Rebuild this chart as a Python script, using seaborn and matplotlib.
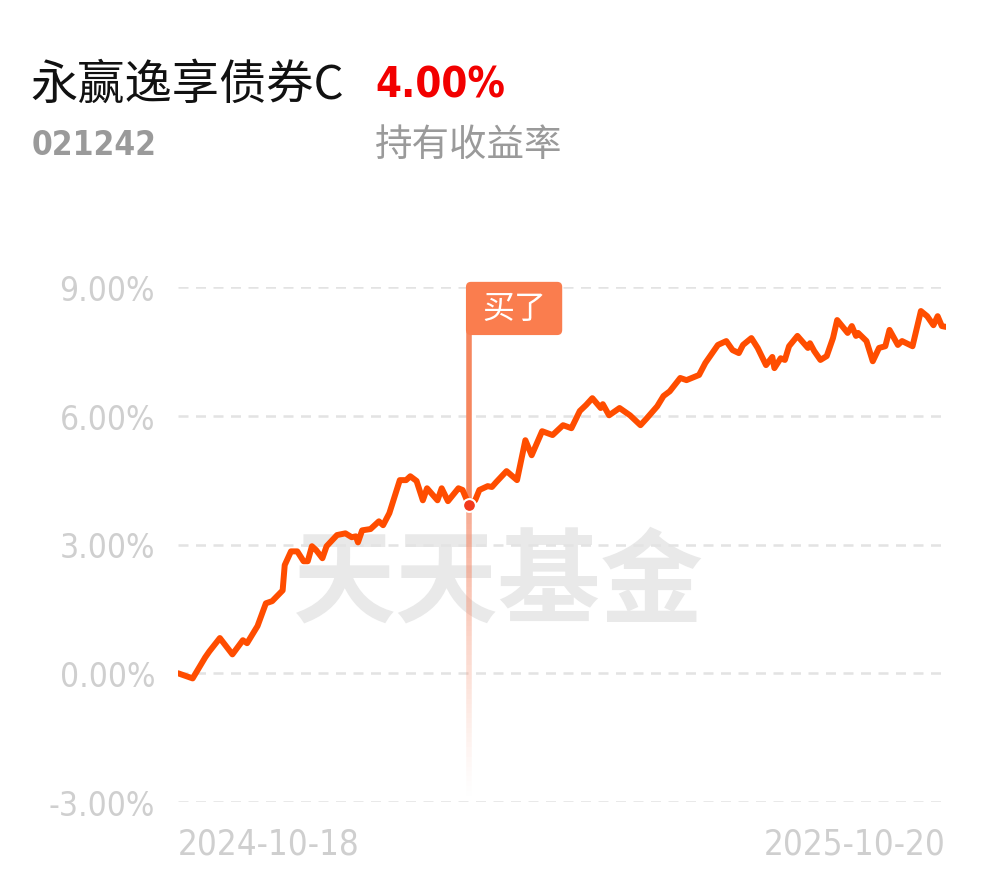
import pandas as pd
import numpy as np
import matplotlib
matplotlib.use("Agg")
import matplotlib.pyplot as plt
import matplotlib.dates as mdates
from matplotlib.collections import LineCollection
from matplotlib.patches import FancyBboxPatch
import seaborn as sns

# holding return curve, calendar days since 2024-10-18 and return in %
days = [0, 7, 13, 15, 20, 26, 31, 33, 38, 42, 45, 50, 51, 54, 57, 60, 62, 64, 66, 69,
        71, 76, 80, 83, 85, 86, 88, 92, 96, 98, 101, 106, 109, 111, 114, 117, 119, 124,
        126, 129, 134, 136, 139, 142, 144, 148, 150, 152, 157, 162, 166, 169, 174, 179,
        184, 188, 192, 195, 198, 202, 203, 206, 211, 216, 221, 224, 229, 232, 235, 240,
        243, 249, 252, 258, 262, 265, 268, 270, 274, 277, 281, 284, 285, 288, 290, 292,
        296, 301, 302, 304, 307, 310, 313, 315, 320, 322, 324, 325, 329, 332, 335, 338,
        340, 344, 346, 351, 355, 358, 361, 363, 365, 367]
returns = [0.00, -0.12, 0.37, 0.51, 0.82, 0.44, 0.77, 0.70, 1.10, 1.63, 1.68, 1.93, 2.52,
           2.84, 2.84, 2.61, 2.61, 2.96, 2.87, 2.68, 2.96, 3.22, 3.26, 3.17, 3.19, 3.05,
           3.33, 3.36, 3.54, 3.45, 3.73, 4.50, 4.50, 4.59, 4.48, 4.03, 4.31, 4.03, 4.31,
           4.01, 4.31, 4.27, 3.92, 4.03, 4.27, 4.36, 4.34, 4.45, 4.71, 4.50, 5.43, 5.08,
           5.64, 5.55, 5.78, 5.71, 6.11, 6.25, 6.41, 6.18, 6.27, 6.01, 6.18, 6.01, 5.78,
           5.94, 6.22, 6.46, 6.57, 6.88, 6.83, 6.95, 7.23, 7.65, 7.74, 7.53, 7.46, 7.65,
           7.81, 7.58, 7.18, 7.37, 7.11, 7.34, 7.30, 7.62, 7.86, 7.58, 7.69, 7.51, 7.30,
           7.39, 7.81, 8.23, 7.93, 8.09, 7.86, 7.93, 7.74, 7.27, 7.58, 7.62, 8.00, 7.65,
           7.74, 7.62, 8.44, 8.32, 8.11, 8.32, 8.09, 8.07]
buy_pos = 42  # index of the purchase day in the lists above

start_date = "2024-10-18"
end_date = "2025-10-20"
y_ticks = [-3, 0, 3, 6, 9]
y_labels = ["-3.00%", "0.00%", "3.00%", "6.00%", "9.00%"]

fund_name = "永赢逸享债券C"
fund_code = "021242"
hold_return = "4.00%"

df = pd.DataFrame({"date": pd.Timestamp(start_date) + pd.to_timedelta(days, unit="D"),
                   "ret": returns})

sns.set_theme(style="white")
plt.rcParams["font.family"] = ["Noto Sans CJK SC", "DejaVu Sans"]
num = dict(family="DejaVu Sans", stretch="condensed")

fig = plt.figure(figsize=(9.9, 8.78), dpi=100)
fig.patch.set_facecolor("white")
ax = fig.add_axes([178 / 990, 1 - 803 / 878, (946 - 178) / 990, (803 - 288) / 878])

# watermark, under the curve
ax.text(0.503, 0.335, "天天基金", transform=fig.transFigure, fontsize=74,
        fontweight="bold", color="#e9e9e9", ha="center", va="center", zorder=0)

# dashed grid
for t in y_ticks:
    ax.axhline(t, color="#e3e3e3", lw=1.8, ls=(0, (4, 3)), zorder=1)

sns.lineplot(data=df, x="date", y="ret", ax=ax, color="#ff4d00", lw=4.3,
             zorder=4, legend=False)

# buy marker and its vertical guide
bx = mdates.date2num(df["date"].iloc[buy_pos])
by = df["ret"].iloc[buy_pos]
n = 60
ys = np.linspace(by, y_ticks[0] + 0.15, n + 1)
segs = [[(bx, ys[i]), (bx, ys[i + 1])] for i in range(n)]
cols = [(0.96, 0.55, 0.42, 0.75 * (1 - i / n) ** 1.2) for i in range(n)]
ax.add_collection(LineCollection(segs, colors=cols, linewidths=4, zorder=3))
ax.plot([bx, bx], [by, 7.95], color="#f6865e", lw=4, zorder=3, clip_on=False)
ax.scatter([bx], [by], s=85, color="#f23a1c", edgecolor="white", linewidth=1.5,
           zorder=6, clip_on=False)

# "买了" tag
x0 = bx - 1.4
tag = FancyBboxPatch((x0, 7.88), 46, 1.24, boxstyle="round,pad=0,rounding_size=2.4",
                     mutation_aspect=0.05, facecolor="#fa7d4e", edgecolor="none",
                     zorder=5, clip_on=False)
ax.add_patch(tag)
ax.text(x0 + 23, 8.52, "买了", color="white", fontsize=23, ha="center", va="center",
        zorder=6, clip_on=False)

ax.set_xlim(pd.Timestamp(start_date), pd.Timestamp(end_date))
ax.set_ylim(y_ticks[0], y_ticks[-1])
ax.set_yticks(y_ticks)
ax.set_yticklabels(y_labels, fontsize=24, color="#cfcfcf", **num)
ax.set_xticks([pd.Timestamp(start_date), pd.Timestamp(end_date)])
ax.set_xticklabels([start_date, end_date], fontsize=25, color="#cfcfcf", **num)
xl = ax.get_xticklabels()
xl[0].set_ha("left")
xl[1].set_ha("right")
ax.tick_params(axis="y", length=0, pad=16.5)
ax.tick_params(axis="x", length=0, pad=18)
ax.set_xlabel("")
ax.set_ylabel("")
for s in ax.spines.values():
    s.set_visible(False)
ax.set_facecolor("none")

# header
fig.text(30 / 990, 1 - 86 / 878, fund_name, fontsize=34, color="#111111",
         ha="left", va="center")
fig.text(375 / 990, 1 - 86 / 878, hold_return, fontsize=30, color="#f20000",
         fontweight="bold", ha="left", va="center", **num)
fig.text(32 / 990, 1 - 146 / 878, fund_code, fontsize=24, color="#9a9a9a",
         fontweight="bold", ha="left", va="center", **num)
fig.text(375 / 990, 1 - 146 / 878, "持有收益率", fontsize=27, color="#9a9a9a",
         ha="left", va="center")

fig.savefig("out.png", dpi=100, facecolor="white")
